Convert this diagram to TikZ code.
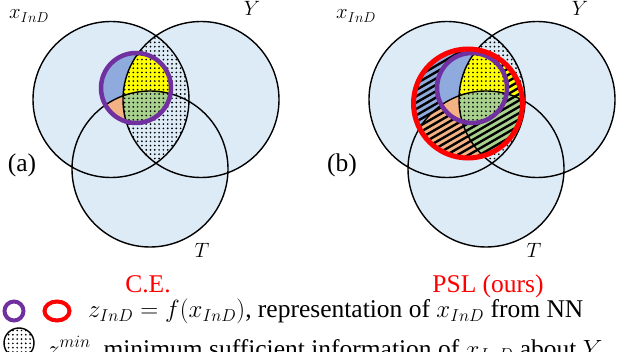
\documentclass[tikz,border=0pt]{standalone}
\usepackage{fontspec}
\setmainfont{Liberation Serif}
\usetikzlibrary{patterns.meta}

\definecolor{vennbg}{RGB}{221,235,247}
\definecolor{zblue}{RGB}{143,170,220}
\definecolor{zyellow}{RGB}{255,255,0}
\definecolor{zgreen}{RGB}{169,209,142}
\definecolor{zorange}{RGB}{244,177,131}
\definecolor{zpurple}{RGB}{112,48,160}
\definecolor{zred}{RGB}{255,0,0}

% the three sets and the two representations
\newcommand{\setX}{(111,99.5) circle[radius=78pt]}
\newcommand{\setY}{(201,99.5) circle[radius=78pt]}
\newcommand{\setT}{(150,169) circle[radius=78pt]}
\newcommand{\repZ}{(136,88) circle[radius=35pt]}
\newcommand{\repR}{(132,103.5) circle[radius=54.5pt]}

% colours of the parts, inside the current clip
\newcommand{\paintparts}{%
  \fill[zblue] \setX;
  \fill[zorange] \setT;
  \fill[zyellow] \setY;
  \begin{scope}\clip \setY; \fill[zgreen] \setT;\end{scope}}

\begin{document}
\begin{tikzpicture}[x=1pt, y=-1pt,
      font=\fontsize{25.5}{30}\selectfont,
      setline/.style={draw=black, line width=1.4pt},
      dotfill/.style={pattern={Dots[distance=4.3pt, radius=0.95pt]}},
      hatchline/.style={draw=black, line width=2.4pt},
      zring/.style={draw=zpurple, line width=4.5pt},
      rring/.style={draw=zred, line width=5pt},
      method/.style={text=zred, anchor=base},
      lbl/.style={inner sep=0pt},
      setname/.style={lbl, font=\fontsize{21}{25}\selectfont}]
    \useasboundingbox (0,0) rectangle (618,352);
    \clip (0,0) rectangle (618,352);

    % (a) C.E.
    \fill[vennbg] \setX \setY \setT;
    \begin{scope}\clip \setX; \fill[dotfill] \setY;\end{scope}
    \begin{scope}\clip \repZ; \paintparts; \clip \setY; \fill[dotfill] \setX;\end{scope}
    \draw[setline] \setX \setY \setT;
    \draw[zring] \repZ;

    % (b) PSL
    \begin{scope}[xshift=336pt]
      \fill[vennbg] \setX \setY \setT;
      \begin{scope}\clip \setX; \fill[dotfill] \setY;\end{scope}
      \begin{scope}
        \clip \repR; \paintparts;
        \foreach \k in {0,...,30}
          \draw[hatchline] (70,{45+6.35*\k}) -- ++(130,-75);
      \end{scope}
      \begin{scope}\clip \repZ; \paintparts; \clip \setY; \fill[dotfill] \setX;\end{scope}
      \draw[setline] \setX \setY \setT;
      \draw[zring] \repZ;
      \draw[rring] \repR;
    \end{scope}

    % set labels
    \node[setname, anchor=base west] (xa) at (9,19) {$x_{InD}$};
    \node[setname, anchor=base] (ya) at (252,16) {$Y$};
    \node[setname, anchor=base] (ta) at (202,258) {$T$};
    \node[lbl] (pa) at (22,165) {(a)};
    \node[setname, anchor=base west] (xb) at (336,19) {$x_{InD}$};
    \node[setname, anchor=base] (yb) at (580,16) {$Y$};
    \node[setname, anchor=base] (tb) at (534,258) {$T$};
    \node[lbl] (pb) at (342,165) {(b)};

    % methods
    \node[method] (ce) at (148,293) {C.E.};
    \node[method] (psl) at (488,293) {PSL (ours)};

    % legend
    \draw[zring, line width=4pt] (14,311) circle[radius=9.5pt];
    \draw[rring, line width=4pt] (57,311) ellipse[x radius=12.5pt, y radius=9.5pt];
    \node[lbl, anchor=base west] (leg1) at (88,318)
      {$z_{InD}=f(x_{InD})$, representation of $x_{InD}$ from NN};
    \fill[white] (19,343) circle[radius=15pt];
    \fill[dotfill] (19,343) circle[radius=15pt];
    \draw[setline] (19,343) circle[radius=15pt];
    \node[lbl, anchor=base west] (leg2) at (47,357)
      {$z^{min}$, minimum sufficient information of $x_{InD}$ about $Y$};
  \end{tikzpicture}
\end{document}
